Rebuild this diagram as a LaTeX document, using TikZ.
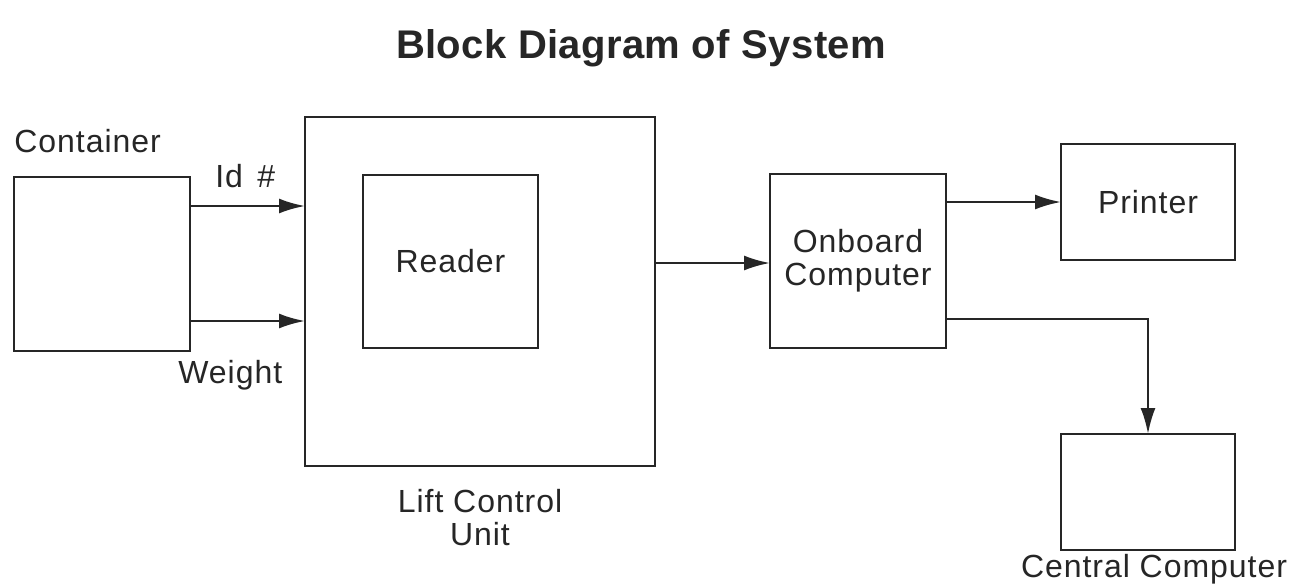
\documentclass[tikz,border=0pt]{standalone}
\usepackage{fontspec}
\setmainfont{Liberation Sans}[LetterSpace=3]
\newfontfamily\titlefont{Liberation Sans}[LetterSpace=1]
\usetikzlibrary{arrows.meta,calc}
\definecolor{ink}{HTML}{262626}
\begin{document}
\begin{tikzpicture}[x=0.5pt,y=-0.5pt,
  box/.style={draw=ink,line width=1.2pt,rectangle,inner sep=0pt,outer sep=0pt,align=center,text=ink,font=\fontsize{16}{16.5}\selectfont},
  lbl/.style={text=ink,font=\fontsize{16}{17}\selectfont,inner sep=0pt,anchor=base},
  arr/.style={draw=ink,line width=1.2pt,-{Latex[length=13pt,width=7.5pt]}}]
\useasboundingbox (0,0) rectangle (1295,584);
\fill[white] (0,0) rectangle (1295,584);
\node[lbl,font=\titlefont\bfseries\fontsize{20}{22}\selectfont] (title) at (641,58) {Block Diagram of System};
\node[box,minimum width=88pt,minimum height=87pt] (cont) at (102,264) {};
\node[box,minimum width=175pt,minimum height=174.5pt] (lcu) at (480,291.5) {};
\node[box,minimum width=87.5pt,minimum height=86.5pt] (reader) at (450.5,261.5) {Reader};
\node[box,minimum width=88pt,minimum height=87pt] (onb) at (858,261) {Onboard\\Computer};
\node[box,minimum width=87pt,minimum height=58pt] (prn) at (1148,202) {Printer};
\node[box,minimum width=87pt,minimum height=58pt] (cen) at (1148,492) {};
\node[lbl,anchor=base west] (contl) at (14,152) {Container};
\node[lbl,anchor=base west] (idl) at (215,187) {Id\hspace{0.45em}\#};
\node[lbl,anchor=base west] (wl) at (178,383) {Weight};
\node[lbl] (lcul1) at (480,512) {Lift Control};
\node[lbl] (lcul2) at (480,545) {Unit};
\node[lbl] (cenl) at (1154,577) {Central Computer};
\coordinate (y1) at (0,206);
\coordinate (y2) at (0,321);
\coordinate (y3) at (0,263);
\coordinate (y4) at (0,202);
\coordinate (y5) at (0,319);
\draw[arr] (cont.east |- y1) -- (lcu.west |- y1);
\draw[arr] (cont.east |- y2) -- (lcu.west |- y2);
\draw[arr] (lcu.east |- y3) -- (onb.west |- y3);
\draw[arr] (onb.east |- y4) -- (prn.west |- y4);
\draw[arr] (onb.east |- y5) -| (cen.north);
\end{tikzpicture}
\end{document}
